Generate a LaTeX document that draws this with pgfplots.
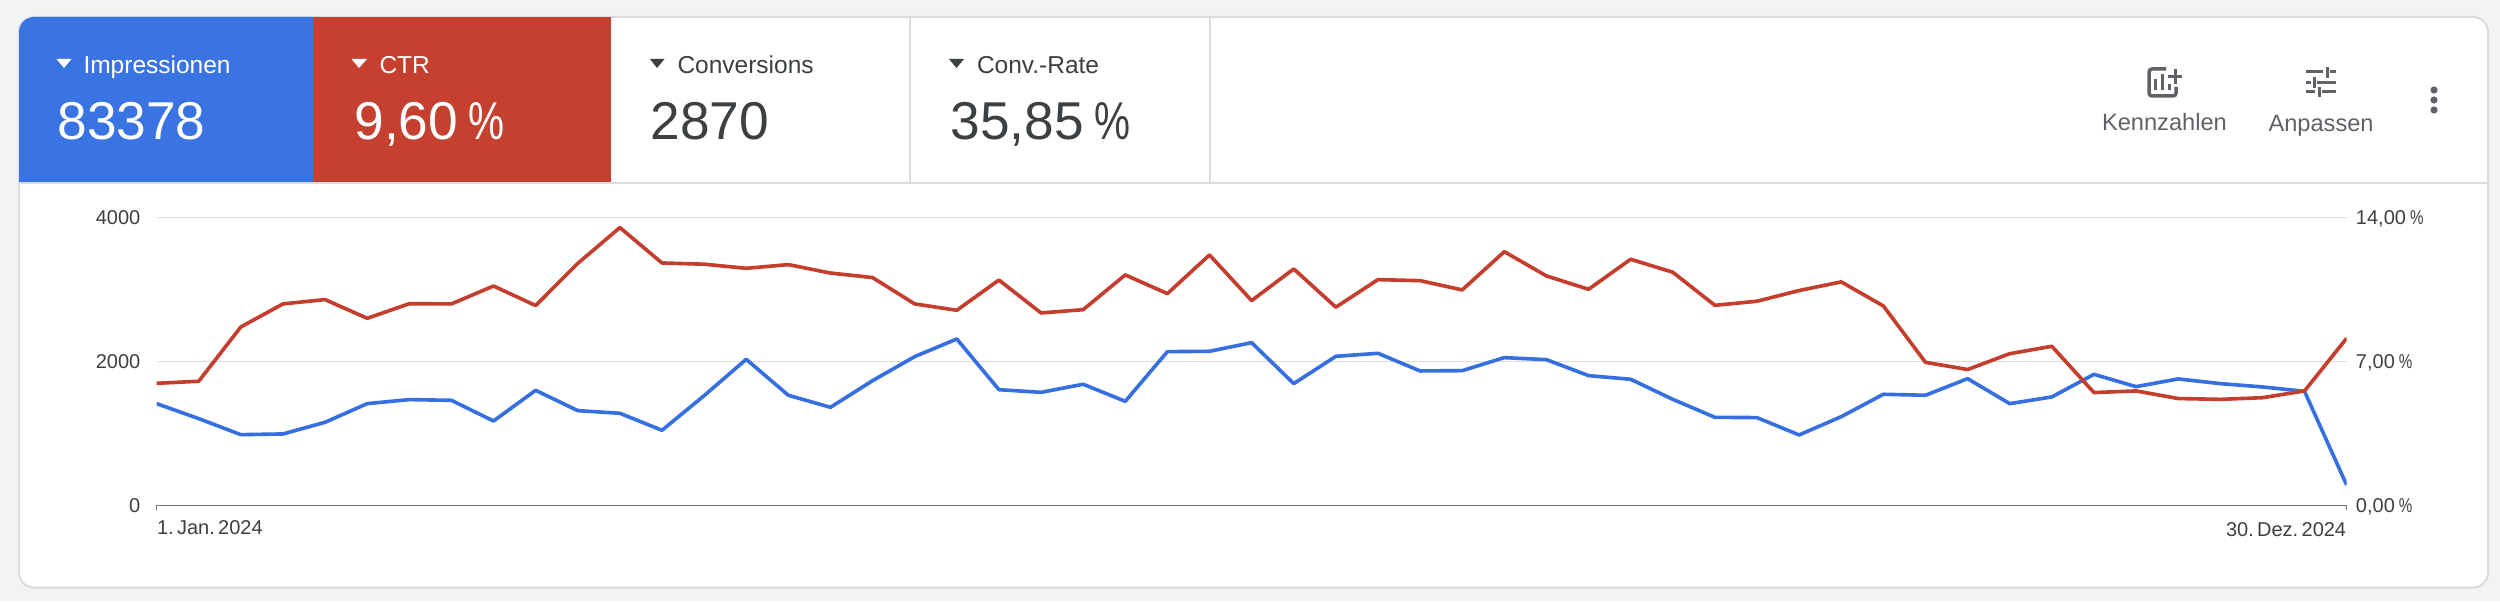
\documentclass[border=0pt]{standalone}
\usepackage{fontspec}
\setmainfont{Liberation Sans}
\usepackage{graphicx}
\usepackage{pgfplots}
\pgfplotsset{compat=1.18}
\usepackage{pgfplotstable}
\definecolor{pagebg}{HTML}{F1F3F4}
\definecolor{cardline}{HTML}{DADCE0}
\definecolor{tabblue}{HTML}{3A74E3}
\definecolor{tabred}{HTML}{C5402F}
\definecolor{lineblue}{HTML}{3670E0}
\definecolor{linered}{HTML}{C53D2D}
\definecolor{inktext}{HTML}{3C4043}
\definecolor{greytext}{HTML}{5F6368}
\definecolor{axisgrey}{HTML}{70757A}
\pgfplotstableread{
i conv
0 1412
1 1204
2 981
3 991
4 1153
5 1412
6 1468
7 1458
8 1171
9 1597
10 1315
11 1278
12 1042
13 1523
14 2028
15 1528
16 1361
17 1731
18 2065
19 2310
20 1606
21 1569
22 1681
23 1444
24 2134
25 2139
26 2259
27 1690
28 2069
29 2111
30 1866
31 1870
32 2051
33 2023
34 1801
35 1750
36 1472
37 1222
38 1218
39 977
40 1231
41 1542
42 1528
43 1759
44 1412
45 1505
46 1819
47 1648
48 1755
49 1690
50 1644
51 1583
52 282
}\convtable
\pgfplotstableread{
i ctr
0 5.93
1 6.03
2 8.67
3 9.79
4 10.00
5 9.09
6 9.80
7 9.79
8 10.66
9 9.71
10 11.76
11 13.50
12 11.78
13 11.72
14 11.52
15 11.70
16 11.29
17 11.07
18 9.79
19 9.48
20 10.95
21 9.35
22 9.51
23 11.20
24 10.29
25 12.17
26 9.95
27 11.49
28 9.63
29 10.97
30 10.92
31 10.47
32 12.33
33 11.15
34 10.50
35 11.96
36 11.33
37 9.72
38 9.92
39 10.44
40 10.86
41 9.69
42 6.95
43 6.60
44 7.37
45 7.73
46 5.48
47 5.56
48 5.19
49 5.15
50 5.23
51 5.56
52 8.12
}\ctrtable
\newcommand{\fs}[1]{\fontsize{#1pt}{#1pt}\selectfont}
\newcommand{\pct}{\kern0.2em\scalebox{0.76}[1]{\%}}
% 1 reference pixel = 0.4pt; y measured from the bottom of the page
\pgfplotsset{chartbase/.style={
  scale only axis, width=876pt, height=115.2pt,
  at={(62.64pt,38.28pt)}, anchor=south west,
  xmin=0, xmax=52,
  tick label style={font=\fs{8}, text=inktext},
}}
\begin{document}
\begin{tikzpicture}[x=0.4pt,y=0.4pt]
\fill[pagebg] (0,0) rectangle (2500,601);
% card
\draw[cardline, line width=0.8pt, fill=white, rounded corners=6pt] (19,13.5) rectangle (2488,584);
% tabs
\fill[tabblue] (19,418) -- (19,570) [rounded corners=6pt] -- (19,584) [sharp corners] -- (313,584) -- (313,418) -- cycle;
\fill[tabred] (313,418) rectangle (611,584);
\draw[cardline, line width=0.8pt] (19,417.5) -- (2488,417.5);
\draw[cardline, line width=0.6pt] (910,418) -- (910,584);
\draw[cardline, line width=0.6pt] (1210,418) -- (1210,584);
% arrows
\fill[white] (56.5,542) -- (71.5,542) -- (64,533) -- cycle;
\fill[white] (351.5,542) -- (367,542) -- (359,533) -- cycle;
\fill[inktext] (650,542) -- (664.5,542) -- (657,533) -- cycle;
\fill[inktext] (949,542) -- (964,542) -- (956.5,533) -- cycle;
% tab texts
\node[anchor=base west, inner sep=0, text=white] at (83,527) {\fs{9.8}Impressionen};
\node[anchor=base west, inner sep=0, text=white] at (379,527) {\fs{9.8}CTR};
\node[anchor=base west, inner sep=0, text=inktext] at (677,527) {\fs{9.8}Conversions};
\node[anchor=base west, inner sep=0, text=inktext] at (976.5,527) {\fs{9.8}Conv.-Rate};
\node[anchor=base west, inner sep=0, text=white] at (57,461.5) {\fs{21.3}83378};
\node[anchor=base west, inner sep=0, text=white] at (354,461.5) {\fs{21.3}9,60\pct};
\node[anchor=base west, inner sep=0, text=inktext] at (650,461.5) {\fs{21.3}2870};
\node[anchor=base west, inner sep=0, text=inktext] at (950,461.5) {\fs{21.3}35,85\pct};
% toolbar texts
\node[anchor=base west, inner sep=0, text=greytext] at (2101.5,470) {\fs{9.45}Kennzahlen};
\node[anchor=base west, inner sep=0, text=greytext] at (2268,469.5) {\fs{9.45}Anpassen};
% Kennzahlen icon
\draw[greytext, line width=1.4pt, rounded corners=1.2pt] (2176,514) -- (2176,505) -- (2149,505) -- (2149,532) -- (2166,532);
\draw[greytext, line width=1.3pt] (2155.5,511) -- (2155.5,522);
\draw[greytext, line width=1.3pt] (2162.5,511) -- (2162.5,527);
\draw[greytext, line width=1.3pt] (2169.5,511) -- (2169.5,517);
\draw[greytext, line width=1.3pt] (2168,524.5) -- (2182,524.5);
\draw[greytext, line width=1.3pt] (2175.5,517) -- (2175.5,532);
% Anpassen icon
\draw[greytext, line width=1.2pt] (2306,529) -- (2323,529) (2330,529) -- (2335.5,529);
\draw[greytext, line width=1.2pt] (2327,523) -- (2327,534);
\draw[greytext, line width=1.2pt] (2306,518.5) -- (2311,518.5) (2317,518.5) -- (2335.5,518.5);
\draw[greytext, line width=1.2pt] (2314.5,513) -- (2314.5,524);
\draw[greytext, line width=1.2pt] (2306,509) -- (2315,509) (2322,509) -- (2335.5,509);
\draw[greytext, line width=1.2pt] (2319.5,504) -- (2319.5,514);
% dots
\fill[greytext] (2434,511) circle (3.6);
\fill[greytext] (2434,501) circle (3.6);
\fill[greytext] (2434,491) circle (3.6);

\begin{axis}[chartbase,
  axis x line=bottom, axis y line=left,
  x axis line style={-, draw=axisgrey, line width=0.6pt},
  y axis line style={draw=none},
  ymin=0, ymax=4000,
  ytick={0,2000,4000}, yticklabels={0,2000,4000},
  ytick style={draw=none},
  ymajorgrids, grid style={cardline, line width=0.6pt},
  yticklabel style={xshift=-1pt},
  xtick={0}, xticklabels={1.\,Jan.\,2024},
  extra x ticks={52}, extra x tick labels={30.\,Dez.\,2024},
  extra x tick style={xticklabel style={anchor=north east, inner xsep=0pt, yshift=-0.6pt}, tick style={draw=axisgrey, line width=0.5pt}},
  xtick style={draw=axisgrey, line width=0.5pt},
  tick align=outside, major tick length=2pt,
  xticklabel style={anchor=north west, inner xsep=0pt, yshift=-0.6pt},
]
\addplot[lineblue, line width=1.45pt, line join=round] table[x=i,y=conv] {\convtable};
\end{axis}
\begin{axis}[chartbase,
  axis x line=none, axis y line=right,
  y axis line style={draw=none},
  ymin=0, ymax=14,
  ytick={0,7,14}, yticklabels={{0,00\pct},{7,00\pct},{14,00\pct}},
  ytick style={draw=none}, major tick length=0pt,
  yticklabel style={xshift=0.2pt, yshift=-0.6pt},
]
\addplot[linered, line width=1.45pt, line join=round] table[x=i,y=ctr] {\ctrtable};
\end{axis}
\end{tikzpicture}
\end{document}
